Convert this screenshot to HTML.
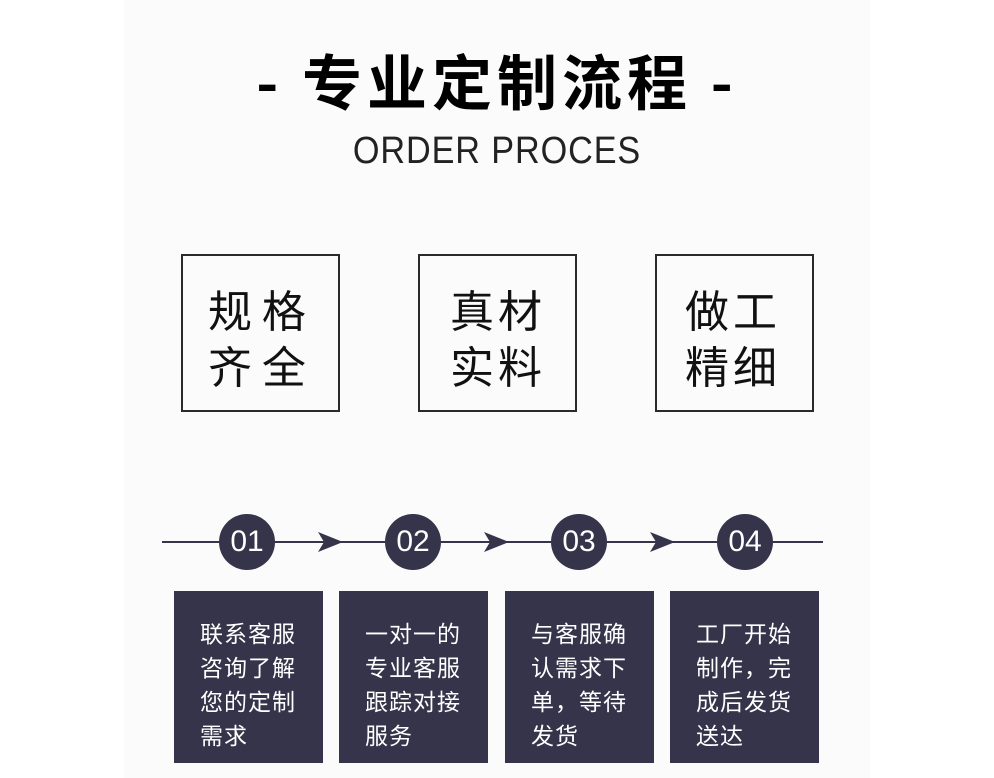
<!DOCTYPE html>
<html><head><meta charset="utf-8"><style>
body{margin:0;width:994px;height:778px;background:#fff;position:relative;overflow:hidden;font-family:"Liberation Sans","Noto Sans CJK SC",sans-serif}
.panel{position:absolute;left:124px;top:0;width:746px;height:778px;background:#fbfbfc}
.t{position:absolute;left:0;width:994px;text-align:center}
.sq{position:absolute;top:254px;width:155px;height:154px;border:2px solid #2a2a2a;box-sizing:content-box}
.sq div{position:absolute;font-size:44px;line-height:56px;color:#111;white-space:pre;font-family:"Noto Sans CJK SC",sans-serif;letter-spacing:4px}
.c{position:absolute;top:514px;width:56px;height:56px;border-radius:50%;background:#36344b;color:#fff;font-size:30px;line-height:56px;text-align:center}
.b{position:absolute;top:591px;width:149px;height:172px;background:#36344b;color:#fff;font-size:23px;letter-spacing:1px;line-height:34px;font-family:"Noto Sans CJK SC",sans-serif;padding:24px 0 0 26px;box-sizing:border-box;white-space:nowrap}
</style></head><body>
<div class="panel"></div>
<div class="t" style="top:40px;font-size:60px;font-weight:bold;line-height:80px;font-family:'Noto Sans CJK SC',sans-serif;color:#000;letter-spacing:5px">-&nbsp;专业定制流程&nbsp;-</div>
<div class="t" style="top:128px;font-size:38px;line-height:46px;color:#222;letter-spacing:1px;transform:scaleX(0.9)">ORDER PROCES</div>
<div class="sq" style="left:181px"><div style="left:25px;top:24px;letter-spacing:0">规 格
齐 全</div></div>
<div class="sq" style="left:418px"><div style="left:30px;top:24px">真材
实料</div></div>
<div class="sq" style="left:655px"><div style="left:28px;top:24px">做工
精细</div></div>
<svg style="position:absolute;left:0;top:0" width="994" height="778">
<line x1="162" y1="542" x2="823" y2="542" stroke="#36344b" stroke-width="2"/>
<g fill="#36344b">
<path d="M318 532 L343 542 L318 552 L324 542Z"/>
<path d="M484 532 L509 542 L484 552 L490 542Z"/>
<path d="M650 532 L675 542 L650 552 L656 542Z"/>
</g>
</svg>
<div class="c" style="left:219px">01</div>
<div class="c" style="left:385px">02</div>
<div class="c" style="left:551px">03</div>
<div class="c" style="left:717px">04</div>
<div class="b" style="left:174px">联系客服<br>咨询了解<br>您的定制<br>需求</div>
<div class="b" style="left:339px">一对一的<br>专业客服<br>跟踪对接<br>服务</div>
<div class="b" style="left:505px">与客服确<br>认需求下<br>单，等待<br>发货</div>
<div class="b" style="left:670px">工厂开始<br>制作，完<br>成后发货<br>送达</div>
</body></html>
